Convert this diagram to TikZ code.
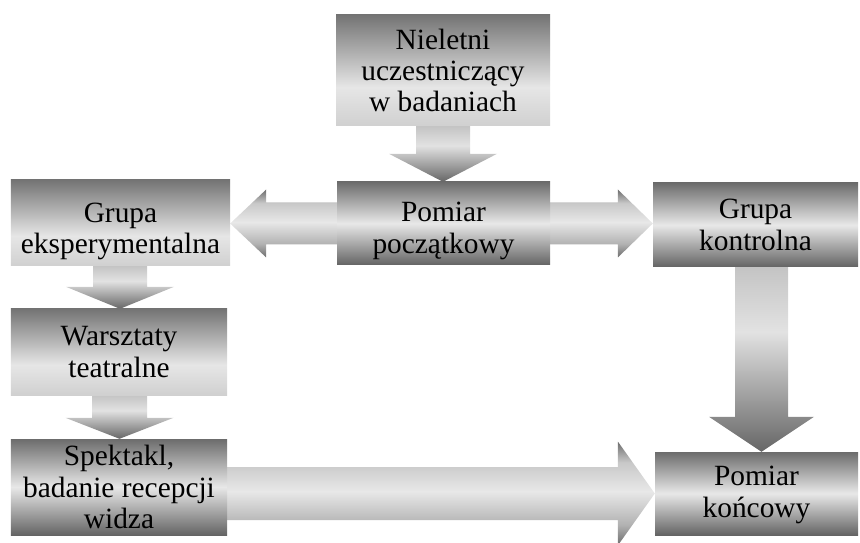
\documentclass[tikz,border=0pt]{standalone}
\usepackage{fontspec}
\setmainfont{Liberation Serif}
\usetikzlibrary{calc,backgrounds}
\definecolor{cAtop}{HTML}{747474}
\definecolor{cAmid}{HTML}{E6E6E6}
\definecolor{cAbot}{HTML}{D0D0D0}
\definecolor{cBtop}{HTML}{6C6C6C}
\definecolor{cBmid}{HTML}{E8E8E8}
\definecolor{cBbot}{HTML}{646464}
\definecolor{cVtop}{HTML}{C4C4C4}
\definecolor{cVmid}{HTML}{E2E2E2}
\definecolor{cVbot}{HTML}{666666}
\definecolor{cHedge}{HTML}{6C6C6C}
\definecolor{cHup}{HTML}{C8C8C8}
\definecolor{cHmid}{HTML}{E8E8E8}
\definecolor{cHlow}{HTML}{B2B2B2}
\pgfdeclareverticalshading{boxAshade}{100bp}{color(0bp)=(cAbot); color(25bp)=(cAbot); color(42.5bp)=(cAmid); color(75bp)=(cAtop); color(100bp)=(cAtop)}
\pgfdeclareverticalshading{boxBshade}{100bp}{color(0bp)=(cBbot); color(25bp)=(cBbot); color(50bp)=(cBmid); color(75bp)=(cBtop); color(100bp)=(cBtop)}
\pgfdeclareverticalshading{varrowshade}{100bp}{color(0bp)=(cVbot); color(25bp)=(cVbot); color(57.5bp)=(cVmid); color(75bp)=(cVtop); color(100bp)=(cVtop)}
\pgfdeclareverticalshading{harrowshade}{100bp}{color(0bp)=(cHedge); color(25bp)=(cHedge); color(35bp)=(cHlow); color(51bp)=(cHmid); color(65bp)=(cHup); color(75bp)=(cHedge); color(100bp)=(cHedge)}
% invisible strut that lowers a node's text block
\newcommand\lowtext[1]{\rule{0pt}{#1}}
% down arrow: from node, to node, arrow centre x, shaft half width, head half width, head length
\newcommand\dnblockarrow[6]{%
  \coordinate (ax) at (#3,0);
  \path[varrow] ($(ax |- #1.south)+(-#4,0)$) -- ($(ax |- #2.north)+(-#4,-#6)$)
    -- ($(ax |- #2.north)+(-#5,-#6)$) -- (ax |- #2.north)
    -- ($(ax |- #2.north)+(#5,-#6)$) -- ($(ax |- #2.north)+(#4,-#6)$)
    -- ($(ax |- #1.south)+(#4,0)$) -- cycle;}
\begin{document}
\begin{tikzpicture}[x=1bp,y=-1bp,
  box/.style={rectangle, inner sep=0pt, align=center, text=black,
    font=\fontsize{29.5}{31.5}\selectfont},
  boxA/.style={box, shade, shading=boxAshade},
  boxB/.style={box, shade, shading=boxBshade},
  varrow/.style={shade, shading=varrowshade},
  harrow/.style={shade, shading=harrowshade}]
\useasboundingbox (0,0) rectangle (860,543);
\node[boxA, minimum width=214bp, minimum height=111bp] (N) at (443,70.5)
  {Nieletni\\uczestniczący\\w badaniach};
\node[boxB, minimum width=213bp, minimum height=83bp] (PP) at (443.5,223.5)
  {\lowtext{34bp}Pomiar\\początkowy};
\node[boxA, minimum width=219bp, minimum height=86bp] (GE) at (120.5,223)
  {\lowtext{36bp}Grupa\\eksperymentalna};
\node[boxB, minimum width=205bp, minimum height=84bp] (GK) at (755.5,225)
  {Grupa\\kontrolna};
\node[boxA, minimum width=216bp, minimum height=86bp] (W) at (119,352)
  {Warsztaty\\teatralne};
\node[boxB, minimum width=216bp, minimum height=96bp] (S) at (119,487)
  {Spektakl,\\badanie recepcji\\widza};
\node[boxB, minimum width=203bp, minimum height=83bp] (PK) at (756.5,493.5)
  {\lowtext{22bp}Pomiar\\końcowy};
\begin{pgfonlayer}{background}
  \dnblockarrow{N}{PP}{443}{27}{54}{28}
  \dnblockarrow{GE}{W}{120}{27}{54}{22}
  \dnblockarrow{W}{S}{119.5}{27.5}{54}{21}
  \dnblockarrow{GK}{PK}{761.5}{26.5}{52.5}{35}
  \coordinate (tl) at (GE.east |- PP.center);
  \coordinate (tr) at (GK.west |- PP.center);
  \path[harrow] (tl) -- ($(tl)+(36,-34)$) -- ($(tl)+(36,-21)$)
    -- ($(tr)+(-35,-21)$) -- ($(tr)+(-35,-34)$) -- (tr)
    -- ($(tr)+(-35,34)$) -- ($(tr)+(-35,21)$)
    -- ($(tl)+(36,21)$) -- ($(tl)+(36,34)$) -- cycle;
  \coordinate (sr) at (S.east |- PK.west);
  \path[harrow] ($(sr)+(0,-26.5)$) -- ($(PK.west)+(-37,-26.5)$)
    -- ($(PK.west)+(-37,-52)$) -- (PK.west)
    -- ($(PK.west)+(-37,52)$) -- ($(PK.west)+(-37,26.5)$)
    -- ($(sr)+(0,26.5)$) -- cycle;
\end{pgfonlayer}
\end{tikzpicture}
\end{document}
